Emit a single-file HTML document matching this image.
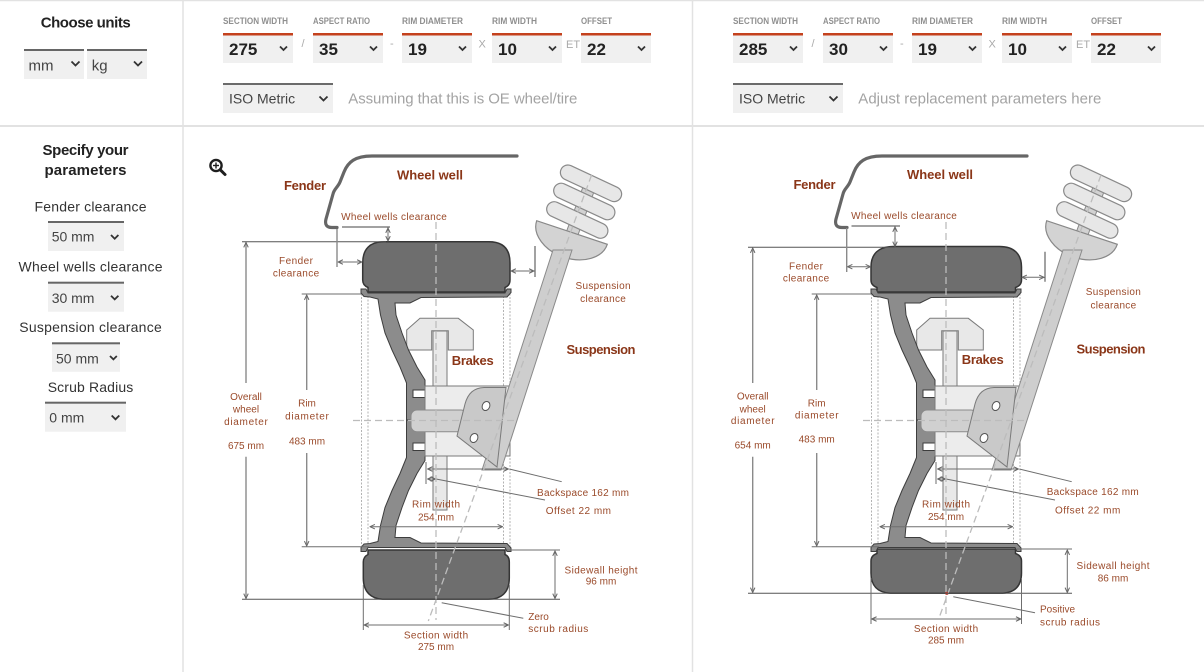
<!DOCTYPE html>
<html><head><meta charset="utf-8">
<style>
html,body{margin:0;padding:0;background:#fff;}
svg{display:block;}
text{font-family:"Liberation Sans",sans-serif;}
.hd{font-size:9.5px;font-weight:bold;fill:#8f8f8f;}
.val{font-size:17px;font-weight:bold;fill:#222;}
.chev{fill:none;stroke:#333;stroke-width:1.8;}
.sep{font-size:11px;fill:#aaa;}
.st{font-size:14px;fill:#444;}
.sb{font-size:14px;fill:#333;text-anchor:middle;}
.lb{font-size:10px;fill:#9a4a2a;text-anchor:middle;}
.ll{font-size:10px;fill:#9a4a2a;}
.bd{font-size:13px;font-weight:bold;fill:#8a3618;text-anchor:middle;}
.dm line{stroke:#6e6e6e;stroke-width:1;}
.dk line{stroke:#8a8a8a;stroke-width:1.4;}
.ds{stroke:#bcbcbc;stroke-width:1.3;stroke-dasharray:7,4;fill:none;}
.tire{fill:#6e6e6e;stroke:#353535;stroke-width:1.5;}
</style></head>
<body>
<svg xmlns="http://www.w3.org/2000/svg" width="1204" height="672" viewBox="0 0 1204 672">
<defs>
<marker id="ah" viewBox="0 0 8 8" refX="7.5" refY="4" markerWidth="6" markerHeight="6" markerUnits="userSpaceOnUse" orient="auto-start-reverse"><path d="M1,1 L7.5,4 L1,7" fill="none" stroke="#666" stroke-width="1.3"/></marker>
<polygon id="rimU" points="361,289 366,289 368,293 505,293 507,289 511,289 511,292.5 507,297 421,297.5 410,303 395,303 396,315 402,333 408.5,350 417,367 425,380 425,420.5 406.5,420.5 406.5,383 400,367 392,350 385,333 380.5,315 378,299 370,297 364,296.5 361,293" fill="#8c8c8c" stroke="#3d3d3d" stroke-width="1"/>
<g id="core">
  <path d="M517 156 L372 156 C355 156 348 162 344 172 L340 182 C338 187 334 189 333 194 L326 219 C324.5 225 327 227.5 332 227.5 L337 227.5" fill="none" stroke="#666" stroke-width="3.2" stroke-linecap="round" stroke-linejoin="round"/>
  <g stroke="#b3b3b3" stroke-width="1" stroke-dasharray="2,1.5">
    <line x1="361.5" y1="290" x2="361.5" y2="551"/>
    <line x1="368" y1="296" x2="368" y2="546"/>
    <line x1="503.5" y1="296" x2="503.5" y2="546"/>
    <line x1="510" y1="290" x2="510" y2="551"/>
  </g>
  <rect x="433" y="331" width="14" height="179" fill="#e9e9e9" stroke="#7a7a7a" stroke-width="1"/>
  <polygon points="406.7,330 420,318.3 458.3,318.3 473.3,330 473.3,350 448.3,350 448.3,330.7 431.7,330.7 431.7,350 406.7,350" fill="#e8e8e8" stroke="#7a7a7a" stroke-width="1"/>
  <use href="#rimU"/>
  <use href="#rimU" transform="translate(0,840.5) scale(1,-1)"/>
  <rect x="413" y="390" width="12" height="7.5" fill="#fff" stroke="#3d3d3d" stroke-width="1"/>
  <rect x="413" y="443" width="12" height="7.5" fill="#fff" stroke="#3d3d3d" stroke-width="1"/>
  <rect x="425" y="386" width="85" height="70" fill="#ececec" stroke="#7a7a7a" stroke-width="1"/>
  <rect x="411" y="410" width="56" height="21.7" rx="6" fill="#d0d0d0" stroke="#8a8a8a" stroke-width="1"/>
  <line x1="589" y1="188" x2="566" y2="250" stroke="#8a8a8a" stroke-width="13"/>
  <line x1="589" y1="188" x2="566" y2="250" stroke="#d2d2d2" stroke-width="11"/>
  <path d="M536.7 220.7 A37.2 26 18.5 0 0 607.3 244.3 Z" fill="#d3d3d3" stroke="#888" stroke-width="1.2"/>
  <g fill="#e7e7e7" stroke="#8a8a8a" stroke-width="1.2">
    <rect x="-33" y="-7.5" width="66" height="15" rx="7.5" transform="translate(591,183.3) rotate(25)"/>
    <rect x="-33" y="-7.5" width="66" height="15" rx="7.5" transform="translate(584.3,201.5) rotate(25)"/>
    <rect x="-33" y="-7.5" width="66" height="15" rx="7.5" transform="translate(577.3,220) rotate(25)"/>
  </g>
  <polygon points="553,250 572,250 501,470 482,470" fill="#cecece" stroke="#8a8a8a" stroke-width="1"/>
  <path d="M457 436 L465 404 C468 393 474 388 484 387.5 L506 387.5 L497 467 Z" fill="#c9c9c9" stroke="#7a7a7a" stroke-width="1"/>
  <ellipse cx="486" cy="406" rx="3.7" ry="4.7" transform="rotate(25 486 406)" fill="#fff" stroke="#555" stroke-width="1"/>
  <ellipse cx="474" cy="438" rx="3.7" ry="4.7" transform="rotate(25 474 438)" fill="#fff" stroke="#555" stroke-width="1"/>
  <line x1="353" y1="420.5" x2="518" y2="420.5" class="ds"/>
  <g class="dm">
    <line x1="370" y1="526.7" x2="502.5" y2="526.7" marker-start="url(#ah)" marker-end="url(#ah)"/>
    <line x1="427.5" y1="469" x2="508.5" y2="469" marker-start="url(#ah)" marker-end="url(#ah)"/>
    <line x1="427.5" y1="479" x2="435.5" y2="479" marker-start="url(#ah)" marker-end="url(#ah)"/>
    <line x1="426" y1="462" x2="426" y2="484"/>
    <line x1="509.3" y1="469" x2="561.7" y2="481.7"/>
    <line x1="436" y1="479" x2="545" y2="500"/>
    <line x1="301.7" y1="294" x2="361" y2="294"/>
    <line x1="301.7" y1="546.7" x2="369" y2="546.7"/>
  </g>
  <g class="dk">
    <line x1="306.7" y1="390" x2="306.7" y2="295" marker-end="url(#ah)"/>
    <line x1="306.7" y1="453" x2="306.7" y2="546" marker-end="url(#ah)"/>
  </g>
</g>
</defs>

<rect width="1204" height="672" fill="#fff"/>
<line x1="0" y1="0.5" x2="1204" y2="0.5" stroke="#e2e2e2" stroke-width="1.5"/>
<line x1="0" y1="126" x2="1204" y2="126" stroke="#e2e2e2" stroke-width="2"/>
<line x1="183" y1="0" x2="183" y2="672" stroke="#e2e2e2" stroke-width="1.5"/>
<line x1="692.5" y1="0" x2="692.5" y2="672" stroke="#e2e2e2" stroke-width="1.5"/>

<!-- top-left units -->
<text x="85.7" y="27.5" text-anchor="middle" font-size="15" font-weight="bold" fill="#222" textLength="90">Choose units</text>
<rect x="24" y="49" width="60" height="30" fill="#f0f0f0"/><rect x="24" y="49" width="60" height="2" fill="#666"/>
<text x="28.5" y="70.5" font-size="15" fill="#444">mm</text>
<polyline points="71.5,61.5 75.5,65.5 79.5,61.5" class="chev"/>
<rect x="87" y="49" width="60" height="30" fill="#f0f0f0"/><rect x="87" y="49" width="60" height="2" fill="#666"/>
<text x="91.7" y="70.5" font-size="15" fill="#444">kg</text>
<polyline points="134,61.5 138,65.5 142,61.5" class="chev"/>

<!-- left tire params -->
<text x="223" y="24" class="hd" textLength="65" lengthAdjust="spacingAndGlyphs">SECTION WIDTH</text>
<text x="313" y="24" class="hd" textLength="57" lengthAdjust="spacingAndGlyphs">ASPECT RATIO</text>
<text x="402" y="24" class="hd" textLength="61" lengthAdjust="spacingAndGlyphs">RIM DIAMETER</text>
<text x="492" y="24" class="hd" textLength="45" lengthAdjust="spacingAndGlyphs">RIM WIDTH</text>
<text x="581" y="24" class="hd" textLength="31" lengthAdjust="spacingAndGlyphs">OFFSET</text>
<g fill="#f0f0f0"><rect x="223" y="33" width="70" height="30"/><rect x="313" y="33" width="70" height="30"/><rect x="402" y="33" width="70" height="30"/><rect x="492" y="33" width="70" height="30"/><rect x="581" y="33" width="70" height="30"/></g>
<g fill="#c4411d"><rect x="223" y="33" width="70" height="2.5"/><rect x="313" y="33" width="70" height="2.5"/><rect x="402" y="33" width="70" height="2.5"/><rect x="492" y="33" width="70" height="2.5"/><rect x="581" y="33" width="70" height="2.5"/></g>
<text x="229" y="55" class="val">275</text><text x="319" y="55" class="val">35</text><text x="408" y="55" class="val">19</text><text x="498" y="55" class="val">10</text><text x="587" y="55" class="val">22</text>
<polyline points="280,46.5 283.5,50 287,46.5" class="chev"/><polyline points="370,46.5 373.5,50 377,46.5" class="chev"/><polyline points="459,46.5 462.5,50 466,46.5" class="chev"/><polyline points="549,46.5 552.5,50 556,46.5" class="chev"/><polyline points="638,46.5 641.5,50 645,46.5" class="chev"/>
<text x="301.5" y="47" class="sep">/</text><text x="390" y="47" class="sep">-</text><text x="478.5" y="47.7" class="sep" font-size="10">X</text><text x="566" y="48" class="sep" font-size="10">ET</text>
<rect x="223" y="83" width="110" height="30" fill="#f0f0f0"/><rect x="223" y="83" width="110" height="2" fill="#6b6b6b"/>
<text x="229" y="103.5" class="st" fill="#333">ISO Metric</text>
<polyline points="319.5,96.5 323.5,100.5 327.5,96.5" class="chev"/>
<text x="348.3" y="103.5" font-size="15" fill="#a3a3a3" textLength="229">Assuming that this is OE wheel/tire</text>

<!-- right tire params -->
<text x="733" y="24" class="hd" textLength="65" lengthAdjust="spacingAndGlyphs">SECTION WIDTH</text>
<text x="823" y="24" class="hd" textLength="57" lengthAdjust="spacingAndGlyphs">ASPECT RATIO</text>
<text x="912" y="24" class="hd" textLength="61" lengthAdjust="spacingAndGlyphs">RIM DIAMETER</text>
<text x="1002" y="24" class="hd" textLength="45" lengthAdjust="spacingAndGlyphs">RIM WIDTH</text>
<text x="1091" y="24" class="hd" textLength="31" lengthAdjust="spacingAndGlyphs">OFFSET</text>
<g fill="#f0f0f0"><rect x="733" y="33" width="70" height="30"/><rect x="823" y="33" width="70" height="30"/><rect x="912" y="33" width="70" height="30"/><rect x="1002" y="33" width="70" height="30"/><rect x="1091" y="33" width="70" height="30"/></g>
<g fill="#c4411d"><rect x="733" y="33" width="70" height="2.5"/><rect x="823" y="33" width="70" height="2.5"/><rect x="912" y="33" width="70" height="2.5"/><rect x="1002" y="33" width="70" height="2.5"/><rect x="1091" y="33" width="70" height="2.5"/></g>
<text x="739" y="55" class="val">285</text><text x="829" y="55" class="val">30</text><text x="918" y="55" class="val">19</text><text x="1008" y="55" class="val">10</text><text x="1097" y="55" class="val">22</text>
<polyline points="790,46.5 793.5,50 797,46.5" class="chev"/><polyline points="880,46.5 883.5,50 887,46.5" class="chev"/><polyline points="969,46.5 972.5,50 976,46.5" class="chev"/><polyline points="1059,46.5 1062.5,50 1066,46.5" class="chev"/><polyline points="1148,46.5 1151.5,50 1155,46.5" class="chev"/>
<text x="811.5" y="47" class="sep">/</text><text x="900" y="47" class="sep">-</text><text x="988.5" y="47.7" class="sep" font-size="10">X</text><text x="1076" y="48" class="sep" font-size="10">ET</text>
<rect x="733" y="83" width="110" height="30" fill="#f0f0f0"/><rect x="733" y="83" width="110" height="2" fill="#6b6b6b"/>
<text x="739" y="103.5" class="st" fill="#333">ISO Metric</text>
<polyline points="829.5,96.5 833.5,100.5 837.5,96.5" class="chev"/>
<text x="858.3" y="103.5" font-size="15" fill="#a3a3a3" textLength="243">Adjust replacement parameters here</text>

<!-- sidebar -->
<text x="85.5" y="155" text-anchor="middle" font-size="15" font-weight="bold" fill="#222" textLength="86">Specify your</text>
<text x="85.5" y="175" text-anchor="middle" font-size="15" font-weight="bold" fill="#222" textLength="82">parameters</text>
<text x="90.5" y="211.5" class="sb" textLength="112">Fender clearance</text>
<rect x="48" y="221" width="76" height="30" fill="#f0f0f0"/><rect x="48" y="221" width="76" height="2" fill="#666"/>
<text x="51.7" y="241.5" class="st" font-size="13.5">50 mm</text>
<polyline points="111,235 114.7,238.7 118.4,235" class="chev"/>
<text x="90.5" y="271.5" class="sb" textLength="144">Wheel wells clearance</text>
<rect x="48" y="281.7" width="76" height="30" fill="#f0f0f0"/><rect x="48" y="281.7" width="76" height="2" fill="#666"/>
<text x="51.7" y="303" class="st" font-size="13.5">30 mm</text>
<polyline points="111,295.7 114.7,299.4 118.4,295.7" class="chev"/>
<text x="90.5" y="332" class="sb" textLength="142.5">Suspension clearance</text>
<rect x="52" y="342.3" width="68" height="29.5" fill="#f0f0f0"/><rect x="52" y="342.3" width="68" height="2" fill="#666"/>
<text x="56" y="363.3" class="st" font-size="13.5">50 mm</text>
<polyline points="110,356 113.4,359.4 116.8,356" class="chev"/>
<text x="90.5" y="392" class="sb" textLength="85.6">Scrub Radius</text>
<rect x="45" y="401.7" width="81" height="30" fill="#f0f0f0"/><rect x="45" y="401.7" width="81" height="2" fill="#666"/>
<text x="49.3" y="422.7" class="st" font-size="13.5">0 mm</text>
<polyline points="111.7,415.5 115.5,419.3 119.3,415.5" class="chev"/>

<!-- zoom icon -->
<circle cx="216" cy="165.5" r="5.6" fill="none" stroke="#1e1e1e" stroke-width="2.4"/>
<line x1="216" y1="162.5" x2="216" y2="168.5" stroke="#1e1e1e" stroke-width="1.4"/>
<line x1="213" y1="165.5" x2="219" y2="165.5" stroke="#1e1e1e" stroke-width="1.4"/>
<line x1="220.3" y1="169.8" x2="225" y2="174.5" stroke="#1e1e1e" stroke-width="3" stroke-linecap="round"/>

<!-- tires -->
<path class="tire" d="M384 241.7 L489 241.7 C503 241.7 510 249 510 263 L510 280 C510 284.5 507.5 286.5 505 287.5 L505 292 L368 292 L368 287.5 C365.5 286.5 362.7 284.5 362.7 280 L362.7 263 C362.7 249 370 241.7 384 241.7 Z"/>
<path class="tire" d="M368 550 L505 550 L505 554.5 C507.5 555.5 509.3 557.5 509.3 562 L509.3 578 C509.3 592 502 599.3 488 599.3 L385 599.3 C371 599.3 363.3 592 363.3 578 L363.3 562 C363.3 557.5 366 555.5 368 554.5 Z"/>
<path class="tire" d="M893 246.5 L999.5 246.5 C1014 246.5 1021.5 254 1021.5 267 L1021.5 280 C1021.5 284.5 1018.5 286.5 1015.5 287.5 L1015.5 292 L877 292 L877 287.5 C874 286.5 871 284.5 871 280 L871 267 C871 254 878.5 246.5 893 246.5 Z"/>
<path class="tire" d="M877 549 L1015.5 549 L1015.5 553.5 C1018.5 554.5 1021.5 556.5 1021.5 561 L1021.5 573 C1021.5 587 1014 593.3 1000 593.3 L893 593.3 C878.5 593.3 871 587 871 573 L871 561 C871 556.5 874 554.5 877 553.5 Z"/>

<use href="#core"/>
<use href="#core" x="510"/>

<!-- dashed axes -->
<line x1="436" y1="222" x2="436" y2="620" class="ds"/>
<line x1="591.6" y1="175" x2="428.3" y2="621" class="ds"/>
<line x1="946" y1="222" x2="946" y2="616" class="ds"/>
<line x1="1101" y1="175" x2="939" y2="618" class="ds"/>
<circle cx="946.7" cy="593.3" r="1.6" fill="#c0392b"/>

<!-- left dims -->
<g class="dm">
  <line x1="242" y1="241.7" x2="386" y2="241.7" style="stroke:#555"/>
  <line x1="242" y1="599.3" x2="560" y2="599.3" style="stroke:#555"/>
  <line x1="342" y1="227" x2="390" y2="227" style="stroke:#444"/>
  <line x1="388" y1="228" x2="388" y2="241" marker-start="url(#ah)" marker-end="url(#ah)"/>
  <line x1="338" y1="262" x2="362" y2="262" marker-start="url(#ah)" marker-end="url(#ah)"/>
  <line x1="535" y1="246" x2="535" y2="277" style="stroke:#444"/>
  <line x1="511" y1="271" x2="534" y2="271" marker-start="url(#ah)" marker-end="url(#ah)"/>
  <line x1="507" y1="550" x2="560" y2="550"/>
  <line x1="555" y1="551" x2="555" y2="598.5" marker-start="url(#ah)" marker-end="url(#ah)"/>
  <line x1="363.3" y1="585" x2="363.3" y2="630"/>
  <line x1="509.3" y1="585" x2="509.3" y2="630"/>
  <line x1="364" y1="625" x2="508.5" y2="625" marker-start="url(#ah)" marker-end="url(#ah)"/>
  <line x1="441.7" y1="602.7" x2="523.3" y2="618.3"/>
</g>
<g class="dk">
  <line x1="337" y1="229" x2="337" y2="267"/>
  <line x1="246" y1="383" x2="246" y2="242.5" marker-end="url(#ah)"/>
  <line x1="246" y1="456.7" x2="246" y2="598.5" marker-end="url(#ah)"/>
</g>

<!-- right dims -->
<g class="dm">
  <line x1="748" y1="247.3" x2="895" y2="247.3" style="stroke:#555"/>
  <line x1="748" y1="593.3" x2="1072" y2="593.3" style="stroke:#555"/>
  <line x1="851.5" y1="226" x2="900" y2="226" style="stroke:#444"/>
  <line x1="895" y1="227" x2="895" y2="246.5" marker-start="url(#ah)" marker-end="url(#ah)"/>
  <line x1="847.5" y1="266.7" x2="870.5" y2="266.7" marker-start="url(#ah)" marker-end="url(#ah)"/>
  <line x1="1045" y1="251.7" x2="1045" y2="281.7" style="stroke:#444"/>
  <line x1="1022" y1="277.3" x2="1044" y2="277.3" marker-start="url(#ah)" marker-end="url(#ah)"/>
  <line x1="1017" y1="549" x2="1072" y2="549"/>
  <line x1="1067.3" y1="550" x2="1067.3" y2="592.5" marker-start="url(#ah)" marker-end="url(#ah)"/>
  <line x1="871" y1="578" x2="871" y2="624"/>
  <line x1="1021.5" y1="578" x2="1021.5" y2="624"/>
  <line x1="871.7" y1="619" x2="1020.8" y2="619" marker-start="url(#ah)" marker-end="url(#ah)"/>
  <line x1="953.3" y1="596.7" x2="1035" y2="612.7"/>
</g>
<g class="dk">
  <line x1="846.7" y1="228" x2="846.7" y2="272"/>
  <line x1="752.7" y1="383" x2="752.7" y2="248" marker-end="url(#ah)"/>
  <line x1="752.7" y1="456.7" x2="752.7" y2="592.5" marker-end="url(#ah)"/>
</g>

<!-- left labels -->
<text x="305" y="190" class="bd" textLength="42">Fender</text>
<text x="430" y="179.3" class="bd" textLength="66">Wheel well</text>
<text x="394" y="220" class="lb" textLength="105.7">Wheel wells clearance</text>
<text x="296" y="264" class="lb" textLength="34">Fender</text>
<text x="296" y="276.7" class="lb" textLength="46.3">clearance</text>
<text x="603" y="289" class="lb" textLength="55">Suspension</text>
<text x="603" y="302" class="lb" textLength="45.7">clearance</text>
<text x="601" y="354" class="bd" textLength="69">Suspension</text>
<text x="472.7" y="365" class="bd" textLength="42">Brakes</text>
<text x="246" y="400" class="lb">Overall</text>
<text x="246" y="412.3" class="lb">wheel</text>
<text x="246" y="425" class="lb" textLength="43.7">diameter</text>
<text x="246" y="449" class="lb">675 mm</text>
<text x="307" y="406.7" class="lb">Rim</text>
<text x="307" y="419.3" class="lb" textLength="43.7">diameter</text>
<text x="307" y="444.3" class="lb">483 mm</text>
<text x="537" y="496" class="ll" textLength="92">Backspace 162 mm</text>
<text x="545.7" y="514" class="ll" textLength="65.3">Offset 22 mm</text>
<text x="436" y="507.7" class="lb" textLength="48">Rim width</text>
<text x="436" y="520.7" class="lb">254 mm</text>
<text x="601" y="573.3" class="lb" textLength="73">Sidewall height</text>
<text x="601" y="584.3" class="lb">96 mm</text>
<text x="528.3" y="620" class="ll">Zero</text>
<text x="528.3" y="632" class="ll" textLength="60">scrub radius</text>
<text x="436" y="638.3" class="lb" textLength="64.3">Section width</text>
<text x="436" y="650" class="lb">275 mm</text>

<!-- right labels -->
<text x="814.5" y="189" class="bd" textLength="42">Fender</text>
<text x="940" y="179" class="bd" textLength="66">Wheel well</text>
<text x="904" y="219" class="lb" textLength="105.7">Wheel wells clearance</text>
<text x="806" y="269.3" class="lb" textLength="34">Fender</text>
<text x="806" y="281.7" class="lb" textLength="46.3">clearance</text>
<text x="1113.3" y="295" class="lb" textLength="55">Suspension</text>
<text x="1113.3" y="308.3" class="lb" textLength="45.7">clearance</text>
<text x="1111" y="353.3" class="bd" textLength="69">Suspension</text>
<text x="982.7" y="364" class="bd" textLength="42">Brakes</text>
<text x="752.7" y="399.5" class="lb">Overall</text>
<text x="752.7" y="412.3" class="lb">wheel</text>
<text x="752.7" y="424" class="lb" textLength="43.7">diameter</text>
<text x="752.7" y="448.3" class="lb">654 mm</text>
<text x="816.7" y="406.7" class="lb">Rim</text>
<text x="816.7" y="418.3" class="lb" textLength="43.7">diameter</text>
<text x="816.7" y="442.7" class="lb">483 mm</text>
<text x="1046.7" y="495" class="ll" textLength="92">Backspace 162 mm</text>
<text x="1055" y="513.3" class="ll" textLength="65.3">Offset 22 mm</text>
<text x="946" y="507.7" class="lb" textLength="48">Rim width</text>
<text x="946" y="520" class="lb">254 mm</text>
<text x="1113" y="569" class="lb" textLength="73">Sidewall height</text>
<text x="1113" y="581.7" class="lb">86 mm</text>
<text x="1040" y="612.7" class="ll">Positive</text>
<text x="1040" y="625.3" class="ll" textLength="60">scrub radius</text>
<text x="946" y="632" class="lb" textLength="64.3">Section width</text>
<text x="946" y="643.3" class="lb">285 mm</text>
</svg>
</body></html>
